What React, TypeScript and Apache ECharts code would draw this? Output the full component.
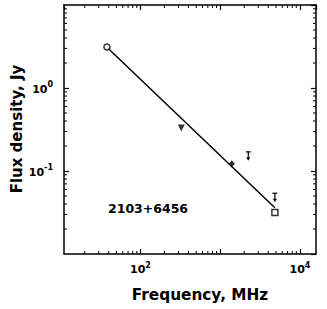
import React, { useEffect, useRef } from "react";
import * as echarts from "echarts";

// Frequencies in MHz, flux densities in Jy
const detFreqCircle = [38];
const detFluxCircle = [3.12];
const detFreqTriangle = [325];
const detFluxTriangle = [0.33];
const detFreqDiamond = [1400];
const detFluxDiamond = [0.122];
const detFreqSquare = [4850];
const detFluxSquare = [0.0316];
const ulFreq = [2250, 4850];
const ulFlux = [0.17, 0.054];
const fitFreq = [38, 4850];
const fitFlux = [3.1, 0.036];

const xRange = [11, 15900];
const yRange = [0.01, 10];
const xLabelExps = [2, 4];
const yLabelExps = [0, -1];
const xMinorTicks = [20, 30, 40, 50, 60, 70, 80, 90, 200, 300, 400, 500, 600, 700, 800, 900, 2000, 3000, 4000, 5000, 6000, 7000, 8000, 9000];
const yMinorTicks = [0.02, 0.03, 0.04, 0.05, 0.06, 0.07, 0.08, 0.09, 0.2, 0.3, 0.4, 0.5, 0.6, 0.7, 0.8, 0.9, 2, 3, 4, 5, 6, 7, 8, 9];

const sourceName = "2103+6456";
const xTitle = "Frequency, MHz";
const yTitle = "Flux density, Jy";

const FONT = "DejaVu Sans";

const zip = (a: number[], b: number[]) => a.map((v, i) => [v, b[i]]);

function labelFormatter(exps: number[]) {
  return (v: number) => {
    const e = Math.log10(v);
    const r = Math.round(e);
    if (Math.abs(e - r) < 1e-6 && exps.indexOf(r) >= 0) {
      return `{b|10}{s|${r}}`;
    }
    return "";
  };
}

const rich = {
  b: { fontSize: 11, fontWeight: "bold", fontFamily: FONT, color: "#000", lineHeight: 13, verticalAlign: "bottom" },
  s: { fontSize: 8, fontWeight: "bold", fontFamily: FONT, color: "#000", lineHeight: 10, padding: [0, 0, 6, 0], verticalAlign: "bottom" },
};

export default function App() {
  const ref = useRef<HTMLDivElement>(null);
  useEffect(() => {
    if (!ref.current) return;
    const chart = echarts.init(ref.current, undefined, { renderer: "svg" });
    const axisLine = { show: true, onZero: false, lineStyle: { color: "#000", width: 1.5 } };
    const majorTick = { show: true, inside: true, length: 5, lineStyle: { color: "#000", width: 1.2 } };
    const minorData = [
      ...xMinorTicks.map((v) => [v, 1, 0]),
      ...yMinorTicks.map((v) => [100, v, 1]),
    ];
    chart.setOption({
      animation: false,
      backgroundColor: "#fff",
      grid: { left: 64, right: 11, top: 5, bottom: 55, containLabel: false },
      xAxis: [
        {
          type: "log",
          logBase: 10,
          min: xRange[0],
          max: xRange[1],
          position: "bottom",
          axisLine,
          axisTick: majorTick,
          splitLine: { show: false },
          axisLabel: { show: true, margin: 8, formatter: labelFormatter(xLabelExps), rich, showMinLabel: false, showMaxLabel: false },
        },
        {
          type: "log",
          logBase: 10,
          min: xRange[0],
          max: xRange[1],
          position: "top",
          axisLine,
          axisTick: majorTick,
          splitLine: { show: false },
          axisLabel: { show: false },
        },
      ],
      yAxis: [
        {
          type: "log",
          logBase: 10,
          min: yRange[0],
          max: yRange[1],
          position: "left",
          axisLine,
          axisTick: majorTick,
          splitLine: { show: false },
          axisLabel: { show: true, margin: 11, formatter: labelFormatter(yLabelExps), rich, showMinLabel: false, showMaxLabel: false },
        },
        {
          type: "log",
          logBase: 10,
          min: yRange[0],
          max: yRange[1],
          position: "right",
          axisLine,
          axisTick: majorTick,
          splitLine: { show: false },
          axisLabel: { show: false },
        },
      ],
      series: [
        {
          type: "custom",
          xAxisIndex: 0,
          yAxisIndex: 0,
          silent: true,
          clip: false,
          data: minorData,
          encode: { x: 0, y: 1 },
          renderItem: (params: any, api: any) => {
            const cs = params.coordSys;
            const kind = api.value(2);
            const p = api.coord([api.value(0), api.value(1)]);
            const st = { stroke: "#000", lineWidth: 1 };
            const L = 3;
            if (kind === 0) {
              return {
                type: "group",
                children: [
                  { type: "line", shape: { x1: p[0], y1: cs.y + cs.height, x2: p[0], y2: cs.y + cs.height - L }, style: st },
                  { type: "line", shape: { x1: p[0], y1: cs.y, x2: p[0], y2: cs.y + L }, style: st },
                ],
              };
            }
            return {
              type: "group",
              children: [
                { type: "line", shape: { x1: cs.x, y1: p[1], x2: cs.x + L, y2: p[1] }, style: st },
                { type: "line", shape: { x1: cs.x + cs.width, y1: p[1], x2: cs.x + cs.width - L, y2: p[1] }, style: st },
              ],
            };
          },
        },
        {
          type: "line",
          data: zip(fitFreq, fitFlux),
          showSymbol: false,
          symbol: "none",
          lineStyle: { color: "#000", width: 1.5 },
          z: 3,
        },
        {
          type: "scatter",
          data: zip(detFreqCircle, detFluxCircle),
          symbol: "circle",
          symbolSize: 6,
          itemStyle: { color: "#fff", borderColor: "#000", borderWidth: 1.5 },
          z: 5,
        },
        {
          type: "scatter",
          data: zip(detFreqTriangle, detFluxTriangle),
          symbol: "triangle",
          symbolRotate: 180,
          symbolSize: [7, 7],
          itemStyle: { color: "#000" },
          z: 5,
        },
        {
          type: "scatter",
          data: zip(detFreqDiamond, detFluxDiamond),
          symbol: "diamond",
          symbolSize: [6, 7],
          itemStyle: { color: "#000" },
          z: 5,
        },
        {
          type: "scatter",
          data: zip(detFreqSquare, detFluxSquare),
          symbol: "rect",
          symbolSize: 6,
          itemStyle: { color: "#fff", borderColor: "#000", borderWidth: 1.5 },
          z: 5,
        },
        {
          type: "custom",
          data: zip(ulFreq, ulFlux),
          encode: { x: 0, y: 1 },
          z: 5,
          renderItem: (params: any, api: any) => {
            const p = api.coord([api.value(0), api.value(1)]);
            const st = { stroke: "#000", lineWidth: 1.2 };
            return {
              type: "group",
              children: [
                { type: "line", shape: { x1: p[0] - 2.5, y1: p[1], x2: p[0] + 2.5, y2: p[1] }, style: st },
                { type: "line", shape: { x1: p[0], y1: p[1], x2: p[0], y2: p[1] + 6 }, style: st },
                {
                  type: "polygon",
                  shape: { points: [[p[0] - 2, p[1] + 5.5], [p[0] + 2, p[1] + 5.5], [p[0], p[1] + 9]] },
                  style: { fill: "#000" },
                },
              ],
            };
          },
        },
      ],
      graphic: [
        {
          type: "text",
          x: 108,
          y: 208,
          style: { text: sourceName, fontFamily: FONT, fontWeight: "bold", fontSize: 12.5, fill: "#000", textAlign: "left", textVerticalAlign: "middle" },
        },
        {
          type: "text",
          x: 200,
          y: 295,
          style: { text: xTitle, fontFamily: FONT, fontWeight: "bold", fontSize: 15.3, fill: "#000", textAlign: "center", textVerticalAlign: "middle" },
        },
        {
          type: "text",
          x: 17,
          y: 129,
          rotation: Math.PI / 2,
          style: { text: yTitle, fontFamily: FONT, fontWeight: "bold", fontSize: 15, fill: "#000", textAlign: "center", textVerticalAlign: "middle" },
        },
      ],
    });
    return () => chart.dispose();
  }, []);
  return <div ref={ref} style={{ position: "fixed", left: 0, top: 0, width: 327, height: 309 }} />;
}
